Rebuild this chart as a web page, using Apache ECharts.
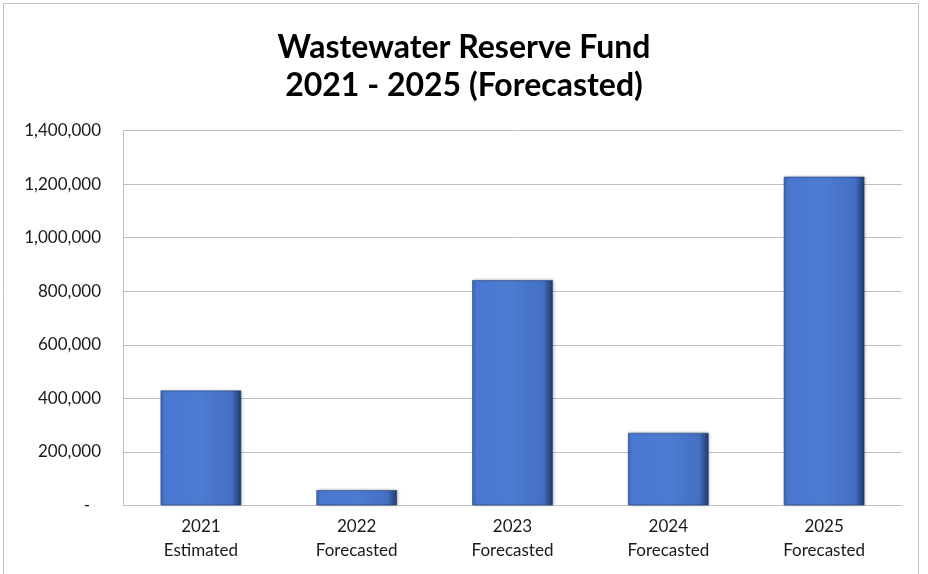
<!DOCTYPE html>
<html>
<head>
<meta charset="utf-8">
<script src="https://cdn.jsdelivr.net/npm/echarts@6/dist/echarts.min.js"></script>
<style>
html,body{margin:0;padding:0;background:#fff;}
#c{width:928px;height:574px;}
</style>
</head>
<body>
<div id="c"></div>
<script>
var titleLines = ['Wastewater Reserve Fund', '2021 - 2025 (Forecasted)'];
var categories = ['2021\nEstimated', '2022\nForecasted', '2023\nForecasted', '2024\nForecasted', '2025\nForecasted'];
var reserveFund = [430000, 58000, 842000, 272000, 1228000];
var yMin = 0, yMax = 1400000, yStep = 200000;

var chart = echarts.init(document.getElementById('c'), null, {renderer: 'canvas'});
var font = 'Lato, "Open Sans", "Liberation Sans", sans-serif';

chart.setOption({
  animation: false,
  backgroundColor: '#ffffff',
  title: {
    text: titleLines.join('\n'),
    left: 'center',
    top: 24,
    textStyle: {fontFamily: font, fontSize: 32, fontWeight: 'bold', color: '#000', lineHeight: 38}
  },
  graphic: [{
    type: 'rect',
    shape: {x: 3.5, y: 3.5, width: 915, height: 640},
    style: {fill: 'none', stroke: '#BFBFBF', lineWidth: 1},
    silent: true, z: 100
  }],
  grid: {left: 123, right: 26, top: 130.5, bottom: 68.5},
  xAxis: {
    type: 'category',
    data: categories,
    axisLine: {show: true, lineStyle: {color: '#BFBFBF', width: 1}},
    axisTick: {show: false},
    axisLabel: {fontFamily: font, fontSize: 17, color: '#1a1a1a', lineHeight: 24, margin: 9}
  },
  yAxis: {
    type: 'value',
    min: yMin, max: yMax, interval: yStep,
    axisLine: {show: true, lineStyle: {color: '#BFBFBF', width: 1}},
    axisTick: {show: false},
    splitLine: {lineStyle: {color: '#BFBFBF', width: 1}},
    axisLabel: {
      fontFamily: font, fontSize: 17, color: '#1a1a1a', margin: 22,
      formatter: function (v) {
        if (v === 0) return '{d|-}';
        return String(v).replace(/\B(?=(\d{3})+(?!\d))/g, ',');
      },
      rich: {d: {fontFamily: font, fontSize: 17, color: '#1a1a1a', padding: [0, 11, 0, 0]}}
    }
  },
  series: [{
    type: 'bar',
    data: reserveFund,
    barWidth: 81,
    itemStyle: {
      color: {
        type: 'linear', x: 0, y: 0, x2: 1, y2: 0,
        colorStops: [
          {offset: 0, color: '#3F68B8'},
          {offset: 0.05, color: '#4A78D0'},
          {offset: 0.5, color: '#4C7BD2'},
          {offset: 0.88, color: '#4470C4'},
          {offset: 0.95, color: '#2E4F90'},
          {offset: 1, color: '#1F3766'}
        ]
      },
      borderColor: 'rgba(40,70,130,0.6)',
      borderWidth: 1,
      shadowColor: 'rgba(0,0,0,0.25)',
      shadowBlur: 3,
      shadowOffsetX: 1,
      shadowOffsetY: 0
    }
  }]
});
</script>
</body>
</html>
